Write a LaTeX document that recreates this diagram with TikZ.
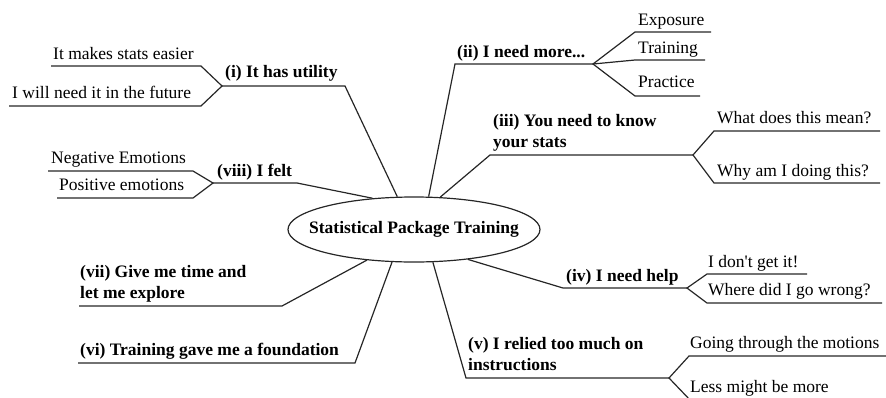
\documentclass[tikz,border=0pt]{standalone}
\usepackage{fontspec}
\IfFontExistsTF{LiberationSerif-Regular.ttf}
  {\setmainfont{LiberationSerif-Regular.ttf}[BoldFont=LiberationSerif-Bold.ttf]}
  {\setmainfont{Liberation Serif}}
\usetikzlibrary{shapes.geometric}
\begin{document}
\begin{tikzpicture}[x=1pt,y=-1pt,
  lbl/.style={anchor=base west, inner sep=0pt, font=\fontsize{17.5}{20}\selectfont\bfseries},
  sub/.style={anchor=base west, inner sep=0pt, font=\fontsize{17.5}{20}\selectfont},
  conn/.style={draw=black!85, line width=1.2pt, line join=miter}]
\useasboundingbox (0,0) rectangle (886,397);
\clip (0,0) rectangle (886,397);
% centre
\node[ellipse, draw=black!85, line width=1.2pt, minimum width=252pt, minimum height=65pt, inner sep=0pt] (c) at (414,229.5) {};
\node[inner sep=0pt, font=\fontsize{17.5}{20}\selectfont\bfseries] (ct) at (c) {Statistical Package Training};

% (i)
\node[lbl] (l1) at (225,77) {(i) It has utility};
\coordinate (l1a) at (222,86); \coordinate (l1b) at (345,86);
\node[sub] (s1a) at (53,59) {It makes stats easier};
\coordinate (s1al) at (51,66); \coordinate (s1ar) at (201,66);
\node[sub] (s1b) at (12,98) {I will need it in the future};
\coordinate (s1bl) at (9,106); \coordinate (s1br) at (201,106);
\draw[conn] (c.117) -- (l1b) -- (l1a);
\draw[conn] (s1al) -- (s1ar) -- (l1a) -- (s1br) -- (s1bl);

% (viii)
\node[lbl] (l8) at (217,176) {(viii) I felt};
\coordinate (l8a) at (213,183); \coordinate (l8b) at (297,183);
\node[sub] (s8a) at (51,163) {Negative Emotions};
\coordinate (s8al) at (48,171); \coordinate (s8ar) at (193,171);
\node[sub] (s8b) at (59,190) {Positive emotions};
\coordinate (s8bl) at (57,198); \coordinate (s8br) at (193,198);
\draw[conn] (c.143.5) -- (l8b) -- (l8a);
\draw[conn] (s8al) -- (s8ar) -- (l8a) -- (s8br) -- (s8bl);

% (ii)
\node[lbl] (l2) at (457,57) {(ii) I need more...};
\coordinate (l2a) at (455,64); \coordinate (l2b) at (593,64);
\node[sub] (s2a) at (638,25) {Exposure};
\coordinate (s2al) at (635,32); \coordinate (s2ar) at (711,32);
\node[sub] (s2b) at (638,53) {Training};
\coordinate (s2bl) at (635,60); \coordinate (s2br) at (705,60);
\node[sub] (s2c) at (638,87) {Practice};
\coordinate (s2cl) at (635,96); \coordinate (s2cr) at (700,96);
\draw[conn] (c.66) -- (l2a) -- (l2b);
\draw[conn] (s2ar) -- (s2al) -- (l2b) -- (s2cl) -- (s2cr);
\draw[conn] (l2b) -- (s2bl) -- (s2br);

% (iii)
\node[lbl] (l3) at (493,126) {(iii) You need to know};
\node[lbl] (l3x) at (493,147) {your stats};
\coordinate (l3a) at (490,155); \coordinate (l3b) at (693,155);
\node[sub] (s3a) at (717,123) {What does this mean?};
\coordinate (s3al) at (714,131); \coordinate (s3ar) at (880,131);
\node[sub] (s3b) at (717,176) {Why am I doing this?};
\coordinate (s3bl) at (714,183); \coordinate (s3br) at (880,183);
\draw[conn] (c.51) -- (l3a) -- (l3b);
\draw[conn] (s3ar) -- (s3al) -- (l3b) -- (s3bl) -- (s3br);

% (iv)
\node[lbl] (l4) at (566,281) {(iv) I need help};
\coordinate (l4a) at (563,288); \coordinate (l4b) at (687,288);
\node[sub] (s4a) at (708,267) {I don\textquotesingle t get it!};
\coordinate (s4al) at (707,274); \coordinate (s4ar) at (807,274);
\node[sub] (s4b) at (708,295) {Where did I go wrong?};
\coordinate (s4bl) at (707,303); \coordinate (s4br) at (882,303);
\draw[conn] (c.331) -- (l4a) -- (l4b);
\draw[conn] (s4ar) -- (s4al) -- (l4b) -- (s4bl) -- (s4br);

% (v)
\node[lbl] (l5) at (468,349) {(v) I relied too much on};
\node[lbl] (l5x) at (468,370) {instructions};
\coordinate (l5a) at (466,378); \coordinate (l5b) at (669,378);
\node[sub] (s5a) at (690,348) {Going through the motions};
\coordinate (s5al) at (689,356); \coordinate (s5ar) at (886,356);
\node[sub] (s5b) at (690,392) {Less might be more};
\coordinate (s5bl) at (691,401); \coordinate (s5br) at (880,401);
\draw[conn] (c.300) -- (l5a) -- (l5b);
\draw[conn] (s5ar) -- (s5al) -- (l5b) -- (s5bl) -- (s5br);

% (vii)
\node[lbl] (l7) at (80,277) {(vii) Give me time and};
\node[lbl] (l7x) at (80,298) {let me explore};
\coordinate (l7a) at (79,306); \coordinate (l7b) at (282,306);
\draw[conn] (c.213) -- (l7b) -- (l7a);

% (vi)
\node[lbl] (l6) at (80,355) {(vi) Training gave me a foundation};
\coordinate (l6a) at (78,363); \coordinate (l6b) at (355,363);
\draw[conn] (c.236) -- (l6b) -- (l6a);
\end{tikzpicture}
\end{document}
